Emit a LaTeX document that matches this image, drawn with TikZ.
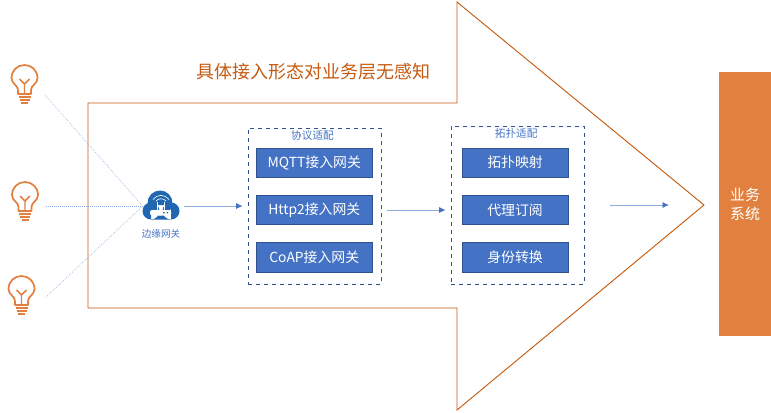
\documentclass[tikz,border=0pt]{standalone}
\usepackage{fontspec}
\setmainfont{Noto Sans CJK SC}
\usepackage{xcolor}
\usetikzlibrary{arrows.meta,positioning}
\definecolor{brownline}{HTML}{C55A11}
\definecolor{bulborange}{HTML}{E2803F}
\definecolor{boxblue}{HTML}{4472C4}
\definecolor{boxedge}{HTML}{2F528F}
\definecolor{paleblue}{HTML}{8FAADC}
\definecolor{cloudblue}{HTML}{2166B0}
\tikzset{
    bulb/.pic={
        \draw[bulborange, line width=1.3pt, line join=round] (-6.5,29) -- (-6.5,25) .. controls (-6.5,20) and (-13,19) .. (-13,13) .. controls (-13,5.6) and (-7.2,0) .. (0,0) .. controls (7.2,0) and (13,5.6) .. (13,13) .. controls (13,19) and (6.5,20) .. (6.5,25) -- (6.5,29) -- cycle;
        \draw[bulborange, line width=1.1pt] (0,28) -- (0,19) -- (-5,14) (0,19) -- (5,14);
        \draw[bulborange, line width=1pt] (-6,32) -- (6,32) (-5,35) -- (5,35);
        \draw[bulborange, line width=1.2pt] (-3.5,38) -- (3.5,38);
    },
    cloudicon/.pic={
        \fill[cloudblue] (-10,6) circle (8.5) (10,6) circle (8.5) (-1,-2) circle (12.5) (-10,0) rectangle (10,14.5);
        \draw[white, line width=.7pt] (-3.5,-3) -- (-3.5,5) (3.5,-3) -- (3.5,5);
        \draw[white, line width=.5pt] (-5,-4) .. controls (-2.5,-7) and (2.5,-7) .. (5,-4);
        \draw[white, line width=.5pt] (-8,-5.5) .. controls (-4,-11) and (4,-11) .. (8,-5.5);
        \fill[white, rounded corners=1.5pt] (-11,5) rectangle (10,10.5);
        \fill[cloudblue] (2,7.2) rectangle (3.5,8.3) (5.5,7.2) rectangle (7,8.3);
    }
}
\begin{document}
\begin{tikzpicture}[
        x=0.75pt, y=-0.75pt,
        node distance=0.46cm,
        gatewaybox/.style={draw=boxedge, fill=boxblue, text=white, minimum height=22pt, inner sep=0pt, font=\fontsize{10.4}{12}\selectfont},
        groupbox/.style={draw=boxedge, dashed, line width=.6pt, inner sep=0pt},
        grouplabel/.style={text=boxblue, inner sep=0pt, font=\fontsize{8}{10}\selectfont},
        flow/.style={-{Latex[length=1.7mm, width=1.6mm, color=boxblue]}, paleblue, line width=.6pt},
        sensorline/.style={paleblue, densely dotted, line width=.5pt}
    ]
    \useasboundingbox (0,0) rectangle (771,412);
    \node[draw=none, minimum width=27pt, minimum height=22pt, inner sep=0pt] (gw) at (161,206) {};
    \node[grouplabel, font=\fontsize{7.2}{9}\selectfont, below=0.22cm of gw.south] (gwlabel) {边缘网关};

    \draw[brownline, line width=.7pt, line join=miter] (88,103) -- (457,103) -- (457,2) -- (704,205) -- (457,410) -- (457,308) -- (88,308) -- cycle;
    \coordinate (tip) at (704,205);
    \node[text=brownline, inner sep=0pt, font=\fontsize{13.5}{16}\selectfont] (title) at (313.5,72) {具体接入形态对业务层无感知};

    \pic at (24.5,65) {bulb};
    \pic at (25,182) {bulb};
    \pic at (21.5,276) {bulb};
    \coordinate (bulba) at (45,95);
    \coordinate (bulbb) at (46,206);
    \coordinate (bulbc) at (46,297);
    \draw[sensorline] (bulba) -- (gw.west);
    \draw[sensorline] (bulbb) -- (gw.west);
    \draw[sensorline] (bulbc) -- (gw.west);
    \pic at (161,205) {cloudicon};

    \node[groupbox, minimum width=99.75pt, minimum height=117pt] (proto) at (314.5,206) {};
    \node[grouplabel, below=0.07cm of proto.north, xshift=-1.5pt] (protolabel) {协议适配};
    \node[gatewaybox, minimum width=87.4pt] (http) at (314.25,210) {Http2接入网关};
    \node[gatewaybox, minimum width=87.4pt, above=of http] (mqtt) {MQTT接入网关};
    \node[gatewaybox, minimum width=87.4pt, below=of http] (coap) {CoAP接入网关};

    \node[groupbox, minimum width=99.75pt, minimum height=118.5pt] (topo) at (517.5,205) {};
    \node[grouplabel, below=0.07cm of topo.north, xshift=-1pt] (topolabel) {拓扑适配};
    \node[gatewaybox, minimum width=79.5pt] (agent) at (515,210) {代理订阅};
    \node[gatewaybox, minimum width=79.5pt, above=of agent] (mapping) {拓扑映射};
    \node[gatewaybox, minimum width=79.5pt, below=of agent] (identity) {身份转换};

    \node[fill=bulborange, text=white, minimum width=39pt, minimum height=198pt, inner sep=0pt, align=center, font=\fontsize{11.2}{14}\selectfont] (biz) at (745,204) {业务\\系统};

    \draw[flow, shorten <=3.75pt, shorten >=3.75pt] (gw.east) -- (proto.west);
    \draw[flow, shorten <=4.5pt, shorten >=3.75pt] ([yshift=-3pt]proto.east) -- ([yshift=-3.75pt]topo.west);
    \draw[flow, shorten <=19.5pt, shorten >=26.25pt] (topo.east) -- (tip);
\end{tikzpicture}
\end{document}
